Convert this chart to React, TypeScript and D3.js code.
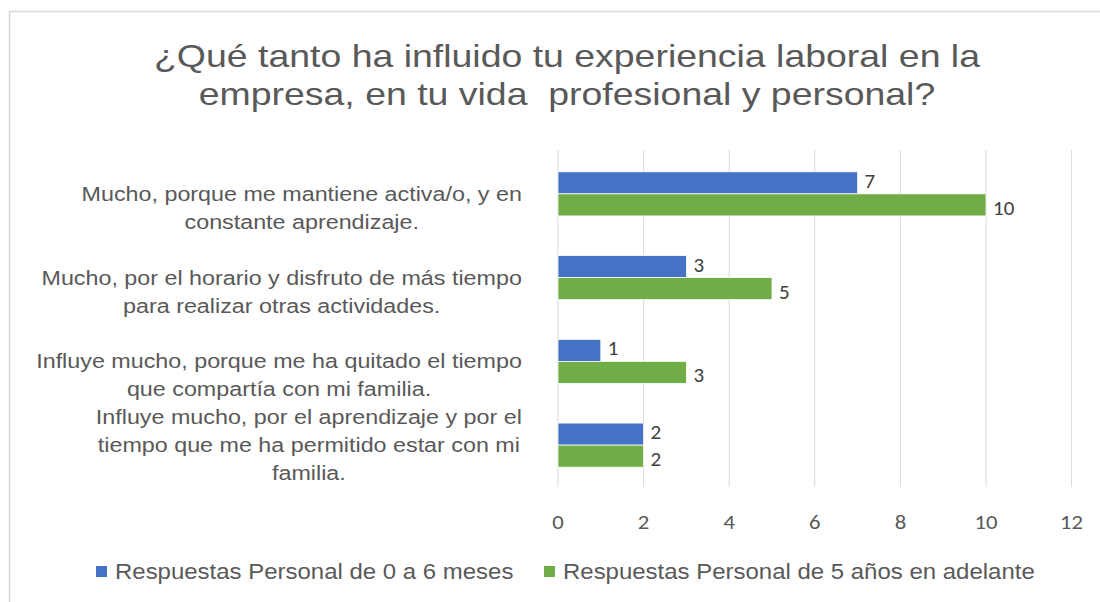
import React, { useEffect, useRef } from 'react';
import * as d3 from 'd3';

const categories = [
  ['Mucho, porque me mantiene activa/o, y en', 'constante aprendizaje.'],
  ['Mucho, por el horario y disfruto de más tiempo', 'para realizar otras actividades.'],
  ['Influye mucho, porque me ha quitado el tiempo', 'que compartía con mi familia.'],
  ['Influye mucho, por el aprendizaje y por el', 'tiempo que me ha permitido estar con mi', 'familia.'],
];
const seriesNames = ['Respuestas Personal de 0 a 6 meses', 'Respuestas Personal de 5 años en adelante'];
const seriesA = [7, 3, 1, 2];
const seriesB = [10, 5, 3, 2];
const xTicks = [0, 2, 4, 6, 8, 10, 12];
const titleLines = ['¿Qué tanto ha influido tu experiencia laboral en la', 'empresa, en tu vida  profesional y personal?'];

const colors = ['#4472C4', '#70AD47'];
const W = 1100;
const H = 602;

export default function App() {
  const ref = useRef<SVGSVGElement>(null);

  useEffect(() => {
    const svg = d3.select(ref.current);
    svg.selectAll('*').remove();

    const sans = 'Arial, "Liberation Sans", sans-serif';
    const numFont = 'Carlito, Calibri, Lato, sans-serif';
    const textColor = '#595959';

    // chart frame
    svg.append('rect')
      .attr('x', 9.5).attr('y', 11.5)
      .attr('width', W + 20).attr('height', H + 20)
      .attr('fill', '#fff').attr('stroke', '#d9d9d9').attr('stroke-width', 1.5);

    // title (the source image is a bit stretched horizontally)
    svg.append('g').selectAll('text')
      .data(titleLines)
      .join('text')
      .attr('transform', (d, i) => `translate(567,${67 + i * 38}) scale(1.17,1)`)
      .attr('text-anchor', 'middle')
      .attr('font-family', sans)
      .attr('font-size', 32)
      .attr('fill', textColor)
      .style('white-space', 'pre')
      .text(d => d);

    const x = d3.scaleLinear().domain([0, 12]).range([558, 1071.6]);
    const y = d3.scaleBand<number>().domain(d3.range(categories.length)).range([152, 487]);
    const inner = d3.scaleBand<number>().domain([0, 1]).range([0, y.bandwidth()]).paddingOuter(0.9).paddingInner(0);

    // gridlines
    svg.append('g').selectAll('line')
      .data(xTicks)
      .join('line')
      .attr('x1', d => x(d)).attr('x2', d => x(d))
      .attr('y1', 150).attr('y2', 487)
      .attr('stroke', '#d9d9d9').attr('stroke-width', 1);

    // tick labels
    svg.append('g').selectAll('text')
      .data(xTicks)
      .join('text')
      .attr('transform', d => `translate(${x(d)},529) scale(1.08,1)`)
      .attr('text-anchor', 'middle')
      .attr('font-family', numFont)
      .attr('font-size', 21)
      .attr('fill', textColor)
      .text(d => d);

    // bars
    const series = [seriesA, seriesB];
    const labelShift = [5, 10];
    series.forEach((vals, s) => {
      const g = svg.append('g');
      g.selectAll('rect')
        .data(vals)
        .join('rect')
        .attr('x', x(0))
        .attr('y', (d, i) => (y(i) as number) + (inner(s) as number))
        .attr('width', d => x(d) - x(0))
        .attr('height', inner.bandwidth())
        .attr('fill', colors[s])
        .attr('stroke', '#fff').attr('stroke-width', 0.75);
      g.selectAll('text')
        .data(vals)
        .join('text')
        .attr('transform', (d, i) =>
          `translate(${x(d) + 7},${(y(i) as number) + (inner(s) as number) + inner.bandwidth() / 2 + labelShift[s]}) scale(1.05,1)`)
        .attr('font-family', numFont)
        .attr('font-size', 20)
        .attr('fill', '#404040')
        .text(d => d);
    });

    // category labels, each block centred on its own widest line, right edge fixed
    const labelRight = 522;
    const lineH = 28;
    const labelScale = 1.11;
    categories.forEach((lines, i) => {
      const c = (y(i) as number) + y.bandwidth() / 2;
      const g = svg.append('g');
      const texts = g.selectAll('text')
        .data(lines)
        .join('text')
        .attr('text-anchor', 'middle')
        .attr('font-family', sans)
        .attr('font-size', 21)
        .attr('fill', textColor)
        .text(d => d);
      let maxW = 0;
      texts.each(function () {
        maxW = Math.max(maxW, (this as SVGTextElement).getComputedTextLength());
      });
      const cx = labelRight - (maxW * labelScale) / 2;
      texts.attr('transform', (d, j) =>
        `translate(${cx},${c + lineH - (lines.length - 1 - j) * lineH + 7}) scale(${labelScale},1)`);
    });

    // legend
    const legendX = [96, 544];
    seriesNames.forEach((name, s) => {
      const g = svg.append('g');
      g.append('rect')
        .attr('x', legendX[s]).attr('y', 566)
        .attr('width', 11).attr('height', 11)
        .attr('fill', colors[s]);
      g.append('text')
        .attr('transform', `translate(${legendX[s] + 19},579) scale(1.09,1)`)
        .attr('font-family', sans)
        .attr('font-size', 22)
        .attr('fill', textColor)
        .text(name);
    });
  }, []);

  return (
    <svg
      ref={ref}
      width={W}
      height={H}
      style={{ position: 'absolute', left: 0, top: 0, background: '#fff' }}
    />
  );
}
